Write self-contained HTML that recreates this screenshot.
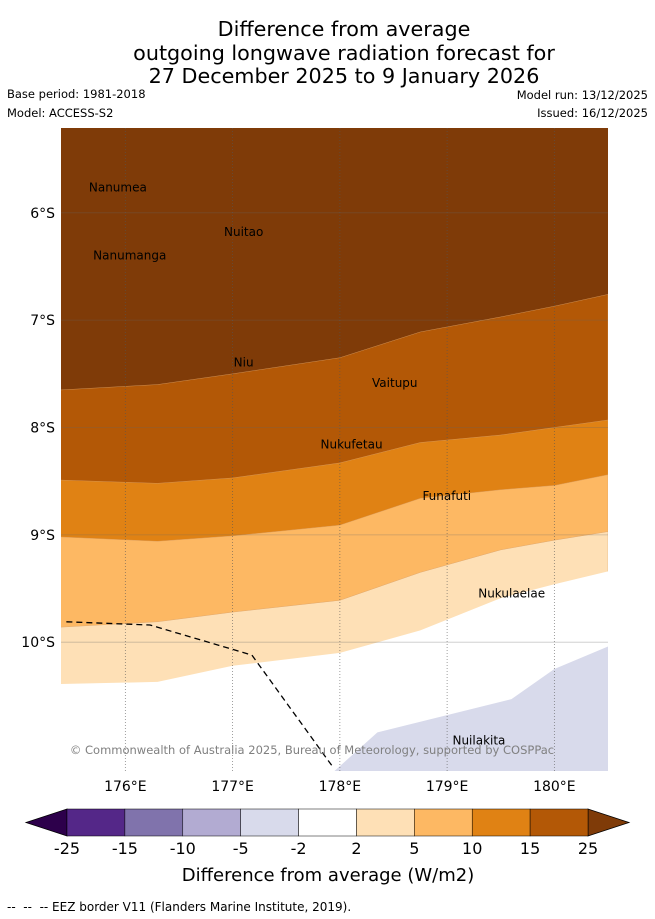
<!DOCTYPE html>
<html><head><meta charset="utf-8"><style>
body{margin:0;background:#fff;font-family:"Liberation Sans","DejaVu Sans",sans-serif;}
#wrap{position:relative;width:655px;height:919px;overflow:hidden}
</style></head><body>
<div id="wrap">
<svg id="svg" width="655" height="919" xmlns="http://www.w3.org/2000/svg" font-family="DejaVu Sans, Liberation Sans, sans-serif">
<g font-size="20.7" text-anchor="middle" fill="#000">
<text x="344" y="36">Difference from average</text>
<text x="344" y="60">outgoing longwave radiation forecast for</text>
<text x="344" y="83">27 December 2025 to 9 January 2026</text>
</g>
<g font-size="11.5" fill="#000">
<text x="7" y="98">Base period: 1981-2018</text>
<text x="7" y="117">Model: ACCESS-S2</text>
<text x="648" y="99" text-anchor="end">Model run: 13/12/2025</text>
<text x="648" y="117" text-anchor="end">Issued: 16/12/2025</text>
</g>
<g id="map"></g>
<g id="cbar"></g>
<text x="7" y="911" font-size="12">-- &#160;-- &#160;-- EEZ border V11 (Flanders Marine Institute, 2019).</text>
</svg>
</div>
<script>
const lonPts=[175.4,176.3,177,178,178.75,179.5,180,180.5];
const b25=[7.65,7.60,7.50,7.35,7.11,6.97,6.87,6.76];
const b15=[8.49,8.52,8.47,8.33,8.14,8.07,8.00,7.93];
const b10=[9.02,9.06,9.01,8.91,8.66,8.58,8.54,8.44];
const b5=[9.86,9.81,9.72,9.61,9.35,9.14,9.05,8.97];
const b2=[10.39,10.37,10.22,10.10,9.89,9.59,9.46,9.34];
const negLon=[177.95,178.35,179.6,180,180.5];
const negLat=[11.2,10.84,10.53,10.25,10.04];
const eezLon=[175.45,176.23,177.18,177.94];
const eezLat=[9.81,9.84,10.12,11.17];
const lonTicks=[176,177,178,179,180];
const latTicks=[6,7,8,9,10];
const islands=[["Nanumea",175.66,5.72],["Nuitao",176.92,6.13],["Nanumanga",175.7,6.35],["Niu",177.01,7.35],["Vaitupu",178.3,7.54],["Nukufetau",177.82,8.11],["Funafuti",178.77,8.59],["Nukulaelae",179.29,9.5],["Nuilakita",179.05,10.87]];
const cbLabels=["-25","-15","-10","-5","-2","2","5","10","15","25"];
const cbColors=["#542788","#8073ac","#b2abd2","#d8daeb","#ffffff","#fee0b6","#fdb863","#e08214","#b35806"];

const X0=61,X1=608,Y0=128,Y1=771;
const LON0=175.4,LON1=180.5,LAT0=5.21,LAT1=11.2;
const x=l=>X0+(l-LON0)/(LON1-LON0)*(X1-X0);
const y=l=>Y0+(l-LAT0)/(LAT1-LAT0)*(Y1-Y0);
const NS="http://www.w3.org/2000/svg";
const map=document.getElementById('map');
function mk(tag,attrs,parent){const e=document.createElementNS(NS,tag);for(const k in attrs)e.setAttribute(k,attrs[k]);parent.appendChild(e);return e;}
function line(lats){return lonPts.map((l,i)=>x(l)+","+y(lats[i]));}
const defs=mk('defs',{},map);const cp=mk('clipPath',{id:'mc'},defs);mk('rect',{x:X0,y:Y0,width:X1-X0,height:Y1-Y0},cp);
const g=mk('g',{'clip-path':'url(#mc)'},map);
let bg=mk('rect',{x:X0,y:Y0,width:X1-X0,height:Y1-Y0,fill:'#7f3b08'},g);


const bands=[[b25,'#b35806','band-15-25'],[b15,'#e08214','band-10-15'],[b10,'#fdb863','band-5-10'],[b5,'#fee0b6','band-2-5'],[b2,'#ffffff','band-neutral']];
bands.forEach(([b,c,n])=>{
 const pts=line(b).concat([X1+","+(Y1+5),X0-5+","+(Y1+5),(X0-5)+","+y(b[0])]);
 const p=mk('polygon',{points:pts.join(' '),fill:c,stroke:c==='#ffffff'?'none':'#d9a066','stroke-width':0.4},g);
 
 
});
{const pts=negLon.map((l,i)=>x(l)+","+y(negLat[i])).concat([X1+5+","+y(negLat[negLat.length-1]),X1+5+","+(Y1+5)]);
 const p=mk('polygon',{points:pts.join(' '),fill:'#d8daeb'},g);
 
 }
lonTicks.forEach(l=>{const e=mk('line',{x1:x(l),x2:x(l),y1:Y0,y2:Y1,stroke:'#555','stroke-width':0.8,'stroke-dasharray':'1,2','opacity':0.7},g);
 
 const t=mk('text',{x:x(l),y:Y1+20,'font-size':14,'text-anchor':'middle'},map);t.textContent=l+"°E";
 });
latTicks.forEach(l=>{const e=mk('line',{x1:X0,x2:X1,y1:y(l),y2:y(l),stroke:'#666','stroke-width':0.8,'opacity':0.35},g);
 
 const t=mk('text',{x:X0-6,y:y(l)+5,'font-size':14,'text-anchor':'end'},map);t.textContent=l+"°S";
 });
{const e=mk('polyline',{points:eezLon.map((l,i)=>x(l)+","+y(eezLat[i])).join(' '),fill:'none',stroke:'#000','stroke-width':1.3,'stroke-dasharray':'6,4'},g);
 }
islands.forEach(([n,lo,la])=>{const t=mk('text',{x:x(lo),y:y(la)+9,'font-size':12,fill:'#000'},g);t.textContent=n;
 });
{const t=mk('text',{x:312,y:754,'font-size':11.5,'text-anchor':'middle',fill:'#808080'},g);t.textContent="© Commonwealth of Australia 2025, Bureau of Meteorology, supported by COSPPac";
 }
const cb=document.getElementById('cbar');
const CX0=67,CX1=588,CY0=809,CY1=836,w=(CX1-CX0)/cbColors.length;
{const p=mk('polygon',{points:`${CX0},${CY0} ${CX0},${CY1} 26,${(CY0+CY1)/2}`,fill:'#2d004b',stroke:'#000','stroke-width':0.8},cb);
 }
{const p=mk('polygon',{points:`${CX1},${CY0} ${CX1},${CY1} 629,${(CY0+CY1)/2}`,fill:'#7f3b08',stroke:'#000','stroke-width':0.8},cb);
 }
cbColors.forEach((c,i)=>{const r=mk('rect',{x:CX0+i*w,y:CY0,width:w,height:CY1-CY0,fill:c,stroke:'#000','stroke-width':0.5},cb);
 });
cbLabels.forEach((s,i)=>{const t=mk('text',{x:CX0+i*w,y:854,'font-size':16,'text-anchor':'middle'},cb);t.textContent=s;
 });
{const t=mk('text',{x:328,y:881,'font-size':18,'text-anchor':'middle'},cb);t.textContent="Difference from average (W/m2)";
 }
</script>
</body></html>
